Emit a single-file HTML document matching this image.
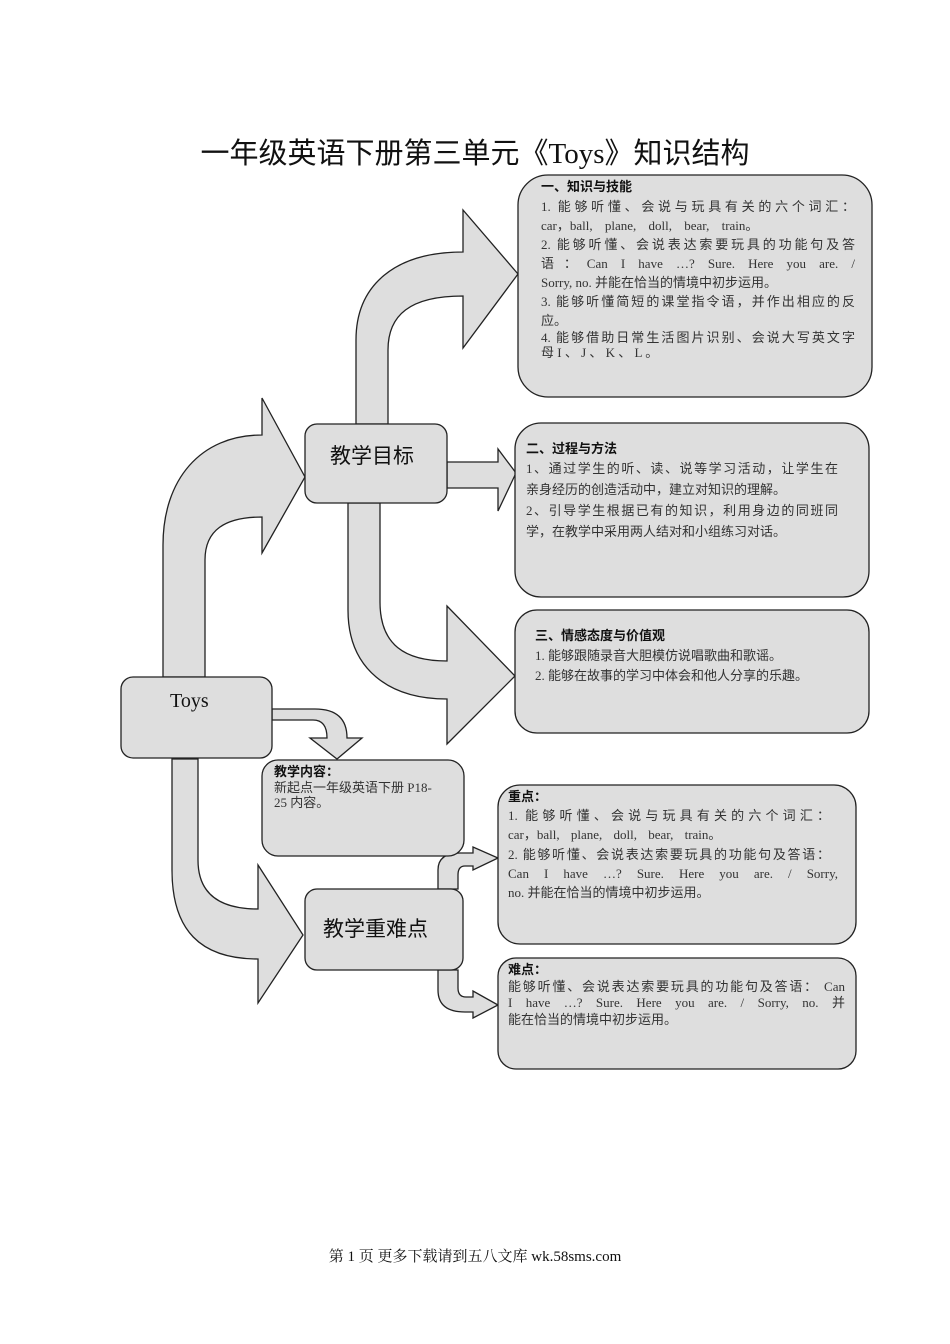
<!DOCTYPE html>
<html><head><meta charset="utf-8">
<style>
body{margin:0;background:#fff;}
#p{position:relative;width:950px;height:1344px;overflow:hidden;font-family:"Liberation Serif","Noto Sans CJK SC",serif;color:#222;}
svg{position:absolute;left:0;top:0;}
.t{position:absolute;white-space:nowrap;font-size:13px;line-height:16px;color:#333;}
.j{text-align:justify;text-align-last:justify;}
.h{position:absolute;white-space:nowrap;font-family:"Liberation Sans","Noto Sans CJK SC",sans-serif;font-weight:bold;font-size:13px;line-height:16px;color:#111;}
.big{position:absolute;white-space:nowrap;font-family:"Liberation Sans","Noto Sans CJK SC",sans-serif;font-size:21px;color:#111;}
</style></head><body><div id="p">
<svg width="950" height="1344" viewBox="0 0 950 1344">
<g fill="#dedede" stroke="#222" stroke-width="1.3" stroke-linejoin="miter">
<path d="M163,677 L163,545 C163,480 200,435 262,435 L262,398 L305,477 L262,553 L262,517 C225,517 205,530 205,560 L205,677 Z"/>
<path d="M356,424 L356,340 C356,285 395,252 463,252 L463,210 L518,274 L463,348 L463,296 C410,296 388,315 388,350 L388,424 Z"/>
<path d="M447,462 L498,462 L498,449 L516,473 L498,511 L498,488 L447,488 Z"/>
<path d="M348,503 L348,610 C348,670 390,699 447,699 L447,744 L515,676 L447,606 L447,661 C405,661 380,645 380,602 L380,503 Z"/>
<path d="M172,759 L172,870 C172,930 200,959 258,959 L258,1003 L303,935 L258,865 L258,909 C215,909 198,890 198,860 L198,759 Z"/>
<path d="M272,709 L315,709 Q347,709 347,738 L362,738 L337,759 L310,738 L327,738 Q327,720 313,720 L272,720 Z"/>
<path d="M438,889 L438,870 Q438,853 460,853 L473,853 L473,847 L498,858 L473,870 L473,866 L465,866 Q458,866 458,875 L458,889 Z"/>
<path d="M438,970 L438,990 Q438,1012 465,1012 L473,1012 L473,1018 L498,1005 L473,991 L473,997 L466,997 Q458,997 458,988 L458,970 Z"/>
<rect x="518" y="175" width="354" height="222" rx="30"/>
<rect x="515" y="423" width="354" height="174" rx="26"/>
<rect x="515" y="610" width="354" height="123" rx="22"/>
<rect x="305" y="424" width="142" height="79" rx="12"/>
<rect x="121" y="677" width="151" height="81" rx="12"/>
<rect x="262" y="760" width="202" height="96" rx="16"/>
<rect x="305" y="889" width="158" height="81" rx="12"/>
<rect x="498" y="785" width="358" height="159" rx="22"/>
<rect x="498" y="958" width="358" height="111" rx="18"/>
</g>
</svg>
<div style="position:absolute;left:0;width:950px;top:130px;text-align:center;font-family:'Liberation Serif','Noto Sans CJK SC',sans-serif;font-size:29px;font-weight:normal;color:#111;">一年级英语下册第三单元《Toys》知识结构</div>

<div class="h" style="left:541px;top:179px">一、知识与技能</div>
<div class="t j" style="left:541px;top:199px;width:314px">1. 能够听懂、会说与玩具有关的六个词汇：</div>
<div class="t" style="left:541px;top:218px;word-spacing:9px">car，ball, plane, doll, bear, train。</div>
<div class="t j" style="left:541px;top:237px;width:314px">2. 能够听懂、会说表达索要玩具的功能句及答</div>
<div class="t j" style="left:541px;top:256px;width:314px">语：Can I have …? Sure. Here you are. /</div>
<div class="t" style="left:541px;top:275px">Sorry, no. 并能在恰当的情境中初步运用。</div>
<div class="t j" style="left:541px;top:294px;width:314px">3. 能够听懂简短的课堂指令语，并作出相应的反</div>
<div class="t" style="left:541px;top:313px">应。</div>
<div class="t j" style="left:541px;top:330px;width:314px">4. 能够借助日常生活图片识别、会说大写英文字</div>
<div class="t" style="left:541px;top:345px">母 I 、 J 、 K 、 L 。</div>

<div class="h" style="left:526px;top:441px">二、过程与方法</div>
<div class="t j" style="left:526px;top:461px;width:312px">1、通过学生的听、读、说等学习活动，让学生在</div>
<div class="t" style="left:526px;top:482px">亲身经历的创造活动中，建立对知识的理解。</div>
<div class="t j" style="left:526px;top:503px;width:312px">2、引导学生根据已有的知识，利用身边的同班同</div>
<div class="t" style="left:526px;top:524px">学，在教学中采用两人结对和小组练习对话。</div>

<div class="h" style="left:535px;top:628px">三、情感态度与价值观</div>
<div class="t" style="left:535px;top:648px">1. 能够跟随录音大胆模仿说唱歌曲和歌谣。</div>
<div class="t" style="left:535px;top:668px">2. 能够在故事的学习中体会和他人分享的乐趣。</div>

<div class="big" style="left:330px;top:440px">教学目标</div>
<div style="position:absolute;left:170px;top:690px;font-family:'Liberation Serif',serif;font-size:20px;color:#111;">Toys</div>
<div class="big" style="left:323px;top:913px">教学重难点</div>

<div class="h" style="left:274px;top:764px">教学内容：</div>
<div class="t" style="left:274px;top:780px">新起点一年级英语下册 P18-</div>
<div class="t" style="left:274px;top:795px">25 内容。</div>

<div class="h" style="left:508px;top:789px">重点：</div>
<div class="t j" style="left:508px;top:808px;width:322px">1. 能够听懂、会说与玩具有关的六个词汇：</div>
<div class="t" style="left:508px;top:827px;word-spacing:8px">car，ball, plane, doll, bear, train。</div>
<div class="t j" style="left:508px;top:847px;width:322px">2. 能够听懂、会说表达索要玩具的功能句及答语：</div>
<div class="t j" style="left:508px;top:866px;width:330px">Can I have …? Sure. Here you are. / Sorry,</div>
<div class="t" style="left:508px;top:885px">no. 并能在恰当的情境中初步运用。</div>

<div class="h" style="left:508px;top:962px">难点：</div>
<div class="t j" style="left:508px;top:979px;width:337px">能够听懂、会说表达索要玩具的功能句及答语： Can</div>
<div class="t j" style="left:508px;top:995px;width:337px">I have …? Sure. Here you are. / Sorry, no. 并</div>
<div class="t" style="left:508px;top:1012px">能在恰当的情境中初步运用。</div>

<div style="position:absolute;left:0;width:950px;top:1245px;text-align:center;font-size:15px;color:#111;font-family:'Liberation Serif','Noto Serif CJK SC',serif;">第 1 页 更多下载请到五八文库 wk.58sms.com</div>
</div></body></html>
